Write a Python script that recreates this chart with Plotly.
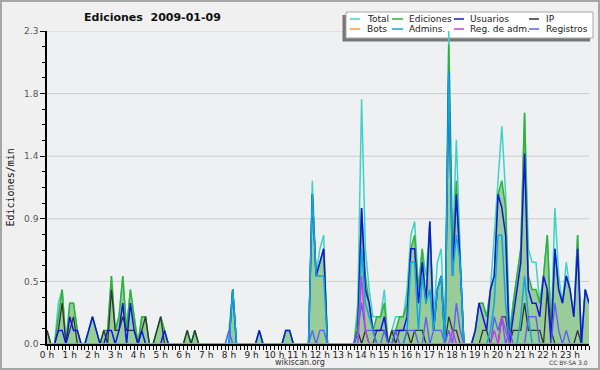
import plotly.graph_objects as go

# ---------------- data (10-minute bins, 0h00 .. 23h50), edits per minute ----------------
hours = [i / 6 for i in range(144)]
hour_ticks = list(range(24))
hour_labels = [f"{h} h" for h in hour_ticks]

total = [
    0.1, 0, 0, 0.3, 0.4, 0, 0.3, 0.3, 0.1, 0, 0, 0.1,
    0.2, 0.1, 0, 0.1, 0.1, 0.5, 0.1, 0.2, 0.5, 0.1, 0.4, 0.2,
    0, 0.2, 0.2, 0, 0, 0.1, 0.2, 0.1, 0, 0, 0, 0,
    0, 0.1, 0, 0.1, 0, 0, 0, 0, 0, 0, 0, 0,
    0.1, 0.4, 0, 0, 0, 0, 0, 0, 0.1, 0, 0, 0,
    0, 0, 0, 0.1, 0.1, 0, 0, 0, 0, 0, 1.2, 0.5,
    0.7, 0.8, 0, 0, 0, 0, 0, 0, 0, 0, 0.3, 1.8,
    0.7, 0.4, 0.2, 0.2, 0.2, 0.4, 0, 0.1, 0.2, 0.2, 0.2, 0.4,
    0.8, 0.9, 0.4, 0.7, 0.5, 0.9, 0.2, 0.6, 0.7, 0, 2.3, 0.7,
    1.5, 0.7, 0, 0, 0, 0.1, 0.3, 0.3, 0.2, 0.4, 0.8, 1.2,
    1.6, 1.1, 0.1, 0.3, 0.5, 0.7, 1.7, 0.7, 0.6, 0.6, 0.3, 0.5,
    0.8, 0.1, 1.0, 0.5, 0.3, 0.6, 0.4, 0.2, 0.8, 0, 0.4, 0.3,
]
ediciones = [
    0.1, 0, 0, 0.2, 0.4, 0, 0.3, 0.3, 0.1, 0, 0, 0.1,
    0.2, 0.1, 0, 0.1, 0.1, 0.5, 0.1, 0.2, 0.5, 0.1, 0.4, 0.2,
    0, 0.2, 0.2, 0, 0, 0.1, 0.2, 0.1, 0, 0, 0, 0,
    0, 0.1, 0, 0.1, 0, 0, 0, 0, 0, 0, 0, 0,
    0, 0.4, 0, 0, 0, 0, 0, 0, 0.1, 0, 0, 0,
    0, 0, 0, 0.1, 0.1, 0, 0, 0, 0, 0, 1.1, 0.5,
    0.6, 0.7, 0, 0, 0, 0, 0, 0, 0, 0, 0.2, 1.0,
    0.5, 0.3, 0.1, 0.2, 0.2, 0.3, 0, 0.1, 0.1, 0.2, 0.2, 0.3,
    0.7, 0.8, 0.4, 0.7, 0.3, 0.9, 0.1, 0.4, 0.5, 0, 2.2, 0.6,
    1.2, 0.6, 0, 0, 0, 0.1, 0.3, 0.3, 0.2, 0.4, 0.5, 1.1,
    1.2, 1.0, 0, 0.3, 0.5, 0.7, 1.7, 0.5, 0.4, 0.4, 0.3, 0.5,
    0.8, 0.1, 0.7, 0.4, 0.3, 0.5, 0.4, 0.2, 0.8, 0, 0.4, 0.3,
]
usuarios = [
    0, 0, 0, 0.1, 0.1, 0, 0.2, 0.1, 0.1, 0, 0, 0.1,
    0.2, 0.1, 0, 0, 0.1, 0.1, 0, 0.1, 0.3, 0, 0.3, 0.1,
    0, 0.1, 0, 0, 0, 0, 0, 0.1, 0, 0, 0, 0,
    0, 0, 0, 0, 0, 0, 0, 0, 0, 0, 0, 0,
    0, 0.4, 0, 0, 0, 0, 0, 0, 0.1, 0, 0, 0,
    0, 0, 0, 0.1, 0.1, 0, 0, 0, 0, 0, 1.1, 0.5,
    0.6, 0.7, 0, 0, 0, 0, 0, 0, 0, 0, 0.1, 1.0,
    0.4, 0.3, 0.1, 0.1, 0.1, 0.2, 0, 0, 0.1, 0.1, 0.1, 0.2,
    0.7, 0.7, 0.3, 0.6, 0.3, 0.9, 0.1, 0.4, 0.5, 0, 2.0, 0.5,
    1.1, 0.6, 0, 0, 0, 0.1, 0.3, 0.2, 0.1, 0.4, 0.5, 1.1,
    1.0, 0.8, 0, 0.2, 0.4, 0.6, 1.4, 0.4, 0.3, 0.3, 0.2, 0.5,
    0.4, 0, 0.7, 0.4, 0.3, 0.5, 0.4, 0.2, 0.7, 0, 0.4, 0.3,
]
ip = [
    0.1, 0, 0, 0.1, 0.3, 0, 0.1, 0.2, 0, 0, 0, 0,
    0, 0, 0, 0.1, 0, 0.4, 0.1, 0.1, 0.2, 0.1, 0.1, 0.1,
    0, 0.1, 0.2, 0, 0, 0.1, 0.2, 0, 0, 0, 0, 0,
    0, 0.1, 0, 0.1, 0, 0, 0, 0, 0, 0, 0, 0,
    0, 0, 0, 0, 0, 0, 0, 0, 0, 0, 0, 0,
    0, 0, 0, 0, 0, 0, 0, 0, 0, 0, 0, 0,
    0, 0, 0, 0, 0, 0, 0, 0, 0, 0, 0.1, 0,
    0.1, 0, 0, 0.1, 0.1, 0.1, 0, 0.1, 0, 0.1, 0.1, 0.1,
    0, 0.1, 0.1, 0.1, 0, 0, 0, 0, 0, 0, 0.2, 0.1,
    0.1, 0, 0, 0, 0, 0, 0, 0.1, 0.1, 0, 0, 0,
    0.2, 0.2, 0, 0.1, 0.1, 0.1, 0.3, 0.1, 0.1, 0.1, 0.1, 0,
    0.4, 0.1, 0, 0, 0, 0, 0, 0, 0.1, 0, 0, 0,
]
bots = [0] * 144
admins = [
    0, 0, 0, 0, 0, 0, 0, 0, 0, 0, 0, 0,
    0, 0, 0, 0, 0, 0, 0, 0, 0, 0, 0, 0,
    0, 0, 0, 0, 0, 0, 0, 0, 0, 0, 0, 0,
    0, 0, 0, 0, 0, 0, 0, 0, 0, 0, 0, 0,
    0, 0.4, 0, 0, 0, 0, 0, 0, 0, 0, 0, 0,
    0, 0, 0, 0, 0, 0, 0, 0, 0, 0, 1.1, 0.5,
    0.5, 0.5, 0, 0, 0, 0, 0, 0, 0, 0, 0, 0.7,
    0.3, 0.2, 0.1, 0, 0, 0, 0, 0, 0, 0, 0, 0.1,
    0.6, 0.6, 0.1, 0.5, 0.3, 0.4, 0.1, 0.4, 0.5, 0, 2.0, 0.5,
    0.8, 0.6, 0, 0, 0, 0, 0, 0, 0, 0.1, 0.3, 0.8,
    0.8, 0.3, 0, 0, 0, 0.2, 0.5, 0.2, 0, 0, 0, 0,
    0, 0, 0, 0, 0, 0, 0, 0, 0, 0, 0, 0,
]
reg_adm = [
    0, 0, 0, 0, 0, 0, 0, 0, 0, 0, 0, 0,
    0, 0, 0, 0, 0, 0, 0, 0, 0, 0, 0, 0,
    0, 0, 0, 0, 0, 0, 0, 0, 0, 0, 0, 0,
    0, 0, 0, 0, 0, 0, 0, 0, 0, 0, 0, 0,
    0, 0, 0, 0, 0, 0, 0, 0, 0, 0, 0, 0,
    0, 0, 0, 0, 0, 0, 0, 0, 0, 0, 0, 0,
    0, 0, 0, 0, 0, 0, 0, 0, 0, 0, 0, 0.5,
    0.1, 0, 0, 0, 0, 0, 0, 0, 0, 0, 0, 0,
    0, 0, 0, 0, 0, 0, 0, 0, 0, 0, 0, 0.1,
    0, 0, 0, 0, 0, 0, 0, 0, 0, 0, 0.1, 0,
    0.2, 0.1, 0, 0, 0, 0, 0, 0, 0, 0, 0, 0,
    0, 0, 0, 0, 0, 0, 0, 0, 0, 0, 0, 0,
]
registros = [
    0, 0, 0, 0, 0, 0, 0, 0, 0, 0, 0, 0,
    0, 0, 0, 0, 0, 0, 0, 0, 0, 0, 0, 0,
    0, 0, 0, 0, 0, 0, 0, 0, 0, 0, 0, 0,
    0, 0, 0, 0, 0, 0, 0, 0, 0, 0, 0, 0,
    0.1, 0, 0, 0, 0, 0, 0, 0, 0, 0, 0, 0,
    0, 0, 0, 0, 0, 0, 0, 0, 0, 0, 0.1, 0,
    0.1, 0.1, 0, 0, 0, 0, 0, 0, 0, 0, 0.1, 0.3,
    0.1, 0.1, 0.1, 0, 0, 0.1, 0, 0, 0.1, 0, 0, 0.1,
    0.1, 0.1, 0, 0, 0.2, 0, 0.1, 0.1, 0.1, 0, 0.1, 0,
    0.3, 0.1, 0, 0, 0, 0, 0, 0, 0, 0, 0.2, 0.1,
    0.2, 0, 0.1, 0, 0, 0, 0, 0.2, 0.2, 0.2, 0, 0,
    0, 0, 0.3, 0.1, 0, 0.1, 0, 0, 0, 0, 0, 0,
]

y_tickvals = [0, 0.46, 0.92, 1.38, 1.84, 2.3]
y_ticktext = ["0.0", "0.5", "0.9", "1.4", "1.8", "2.3"]

# ---------------- figure geometry ----------------
W, H = 600, 370
ML, MR, MT, MB = 47, 11, 31, 26
PW = W - ML - MR
PH = H - MT - MB


def px(x):
    return (x - ML) / PW


def py(y):
    return (H - MB - y) / PH


colors = {
    "Total": "#3fd3c6",
    "Ediciones": "#34b034",
    "Usuarios": "#1414e0",
    "IP": "#333333",
    "Bots": "#f5a030",
    "Admins.": "#0ea8dc",
    "Reg. de adm.": "#c83ce0",
    "Registros": "#6060f0",
}

fig = go.Figure()

# filled area for Ediciones
fig.add_trace(go.Scatter(
    x=hours, y=ediciones, mode="lines", line=dict(width=0, color="rgba(0,0,0,0)"),
    fill="tozeroy", fillcolor="#99cc99", showlegend=False, hoverinfo="skip",
))

series_draw = [
    ("Total", total, 1.5),
    ("Ediciones", ediciones, 1.5),
    ("IP", ip, 1.3),
    ("Usuarios", usuarios, 1.5),
    ("Admins.", admins, 1.5),
    ("Registros", registros, 1.4),
    ("Reg. de adm.", reg_adm, 1.4),
    ("Bots", bots, 1.4),
]
for name, vals, w in series_draw:
    fig.add_trace(go.Scatter(
        x=hours, y=vals, mode="lines", name=name,
        line=dict(color=colors[name], width=w),
        showlegend=False,
    ))

shapes = []
# horizontal grid lines
for v in y_tickvals[1:]:
    shapes.append(dict(type="line", xref="paper", yref="y", x0=0, x1=1, y0=v, y1=v,
                       line=dict(color="#cccccc", width=1), layer="below"))

# legend box with shadow
shapes.append(dict(type="rect", xref="paper", yref="paper",
                   x0=px(342.5), x1=px(590), y0=py(41.5), y1=py(15),
                   fillcolor="#777777", line=dict(width=0), layer="below"))
shapes.append(dict(type="rect", xref="paper", yref="paper",
                   x0=px(346), x1=px(593), y0=py(38), y1=py(12),
                   fillcolor="#ffffff", line=dict(color="#a8a8a8", width=1), layer="below"))

legend_rows = [
    ["Total", "Ediciones", "Usuarios", "IP"],
    ["Bots", "Admins.", "Reg. de adm.", "Registros"],
]
col_line_x = [(350, 360), (392, 403), (454, 464), (529, 539)]
col_text_x = [365, 407, 468, 544]
row_y = [19, 29]

annotations = []
for r, row in enumerate(legend_rows):
    for c, name in enumerate(row):
        x0, x1 = col_line_x[c]
        shapes.append(dict(type="line", xref="paper", yref="paper",
                           x0=px(x0), x1=px(x1), y0=py(row_y[r]), y1=py(row_y[r]),
                           line=dict(color=colors[name], width=1.5), layer="below"))
        annotations.append(dict(text=name, xref="paper", yref="paper",
                                x=px(col_text_x[c]), y=py(row_y[r]),
                                xanchor="left", yanchor="middle", showarrow=False,
                                font=dict(family="DejaVu Sans", size=9, color="#222222")))

# outer frame
shapes.append(dict(type="rect", xref="paper", yref="paper",
                   x0=px(1), x1=px(599), y0=py(369), y1=py(1),
                   line=dict(color="#a6a6a6", width=2), layer="above"))

annotations += [
    dict(text="Ediciones/min", xref="paper", yref="paper", x=px(10), y=0.5,
         textangle=-90, xanchor="center", yanchor="middle", showarrow=False,
         font=dict(family="DejaVu Sans Mono", size=10, color="#111111")),
    dict(text="wikiscan.org", xref="paper", yref="paper", x=px(300), y=py(362),
         xanchor="center", yanchor="middle", showarrow=False,
         font=dict(family="DejaVu Sans", size=8, color="#333333")),
    dict(text="CC BY-SA 3.0", xref="paper", yref="paper", x=px(590), y=py(362.5),
         xanchor="right", yanchor="middle", showarrow=False,
         font=dict(family="DejaVu Sans", size=6, color="#333333")),
]

fig.update_layout(
    width=W, height=H,
    margin=dict(l=ML, r=MR, t=MT, b=MB, pad=0),
    paper_bgcolor="#f0f0f0",
    plot_bgcolor="#eef0f2",
    showlegend=False,
    title=dict(text="Ediciones\u00a0 2009-01-09", xref="container", yref="container",
               x=84 / W, xanchor="left", y=1 - 17 / H, yanchor="middle",
               font=dict(family="DejaVu Sans", size=11, color="#111111", weight="bold")),
    xaxis=dict(
        range=[0, 143 / 6], tickmode="array", tickvals=hour_ticks, ticktext=hour_labels,
        ticks="outside", ticklen=4, tickwidth=1, tickcolor="black",
        ticklabelstandoff=-3,
        showline=True, linecolor="black", linewidth=1.5,
        showgrid=False, zeroline=False,
        tickfont=dict(family="DejaVu Sans", size=9, color="#222222"),
        minor=dict(tickmode="linear", tick0=0, dtick=1 / 6, ticks="outside",
                   ticklen=4, tickwidth=1, tickcolor="black", showgrid=False),
        fixedrange=True,
    ),
    yaxis=dict(
        range=[0, 2.3], tickmode="array", tickvals=y_tickvals, ticktext=y_ticktext,
        ticks="outside", ticklen=5, tickwidth=1, tickcolor="black",
        showline=True, linecolor="black", linewidth=1.5,
        showgrid=False, zeroline=False,
        tickfont=dict(family="DejaVu Sans", size=9, color="#555555"),
        minor=dict(tickmode="linear", tick0=0, dtick=0.115, ticks="outside",
                   ticklen=3, tickwidth=1, tickcolor="black", showgrid=False),
        fixedrange=True,
    ),
    shapes=shapes,
    annotations=annotations,
)

fig.write_html(
    "out.html",
    config={"displayModeBar": False},
    post_script="document.body.style.margin='0';document.body.style.padding='0';",
)
